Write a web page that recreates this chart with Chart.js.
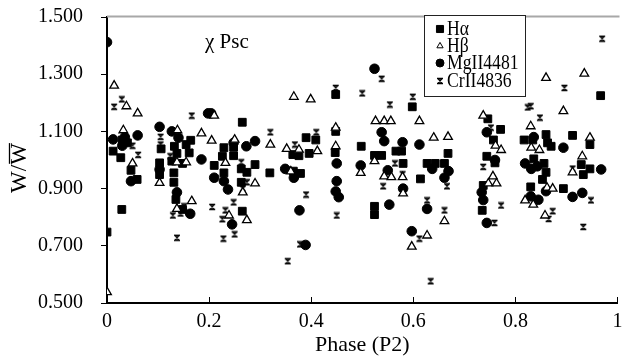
<!DOCTYPE html>
<html>
<head>
<meta charset="utf-8">
<script src="https://cdn.jsdelivr.net/npm/chart.js@4.4.0/dist/chart.umd.min.js"></script>
<style>
html, body { margin: 0; padding: 0; background: #fff; }
</style>
</head>
<body>
<canvas id="wChart" width="624" height="358"></canvas>
<script>
const serif = '"Liberation Serif", "Times New Roman", serif';

const seriesNames = ['Hα', 'Hβ', 'MgII4481', 'CrII4836'];
const xTicks = [0, 0.2, 0.4, 0.6, 0.8, 1];
const yTicks = [0.5, 0.7, 0.9, 1.1, 1.3, 1.5];

// H alpha
const haPhase = [0, 0.04, 0.03, 0.012, 0.027, 0.047, 0.059, 0.029, 0.106, 0.164, 0.155, 0.132, 0.137, 0.161,
    0.148, 0.127, 0.103, 0.103, 0.131, 0.131, 0.135, 0.148, 0.226, 0.21, 0.265, 0.229, 0.248, 0.248, 0.263,
    0.274, 0.29, 0.319, 0.229, 0.263, 0.265, 0.365, 0.379, 0.364, 0.39, 0.409, 0.396, 0.376, 0.448, 0.448,
    0.447, 0.598, 0.498, 0.524, 0.538, 0.566, 0.577, 0.668, 0.58, 0.627, 0.643, 0.661, 0.614, 0.524, 0.524,
    0.967, 0.746, 0.771, 0.757, 0.744, 0.76, 0.737, 0.735, 0.817, 0.834, 0.86, 0.863, 0.87, 0.912, 0.946,
    0.836, 0.856, 0.86, 0.853, 0.929, 0.946, 0.933, 0.83, 0.894];
const haW = [0.748, 1.06, 1.07, 1.031, 1.008, 0.964, 0.932, 0.827, 1.039, 1.069, 1.054, 1.048, 1.023, 1.025,
    0.988, 0.996, 0.99, 0.949, 0.955, 0.922, 0.862, 0.827, 1.013, 0.981, 1.132, 1.043, 1.045, 1.015, 0.969,
    0.957, 0.984, 0.955, 0.955, 0.922, 0.821, 0.961, 0.953, 1.019, 1.078, 1.07, 1.023, 1.015, 1.229, 1.10,
    1.026, 1.186, 1.048, 1.016, 1.016, 1.031, 1.031, 1.023, 0.988, 0.988, 0.988, 0.988, 0.934, 0.838, 0.809,
    1.225, 1.144, 1.107, 1.07, 1.013, 0.99, 0.911, 0.824, 1.07, 1.07, 1.089, 1.06, 1.048, 1.086, 1.054,
    1.004, 0.988, 0.957, 0.932, 0.984, 0.969, 0.949, 0.906, 0.9];

// H beta
const hbPhase = [0.014, 0.038, 0.06, 0.032, 0.05, 0, 0.138, 0.137, 0.155, 0.103, 0.166, 0.137, 0.21, 0.185,
    0.205, 0.32, 0.25, 0.232, 0.29, 0.266, 0.239, 0.274, 0.36, 0.352, 0.376, 0.412, 0.366, 0.399, 0.448,
    0.448, 0.612, 0.526, 0.543, 0.556, 0.64, 0.668, 0.524, 0.497, 0.543, 0.557, 0.579, 0.58, 0.661, 0.627,
    0.597, 0.86, 0.935, 0.894, 0.83, 0.737, 0.761, 0.772, 0.756, 0.747, 0.763, 0.831, 0.847, 0.946, 0.931,
    0.912, 0.819, 0.835, 0.862, 0.873, 0.858];
const hbW = [1.26, 1.188, 1.163, 1.104, 0.988, 0.538, 1.104, 0.992, 0.992, 0.92, 0.856, 0.829, 1.155, 1.093,
    1.068, 1.054, 1.071, 0.99, 0.918, 0.887, 0.806, 0.79, 0.96, 1.039, 1.036, 1.031, 1.221, 1.212, 1.113,
    1.048, 1.136, 1.136, 1.136, 1.136, 1.078, 1.081, 0.996, 0.955, 0.943, 0.94, 0.94, 0.883, 0.786, 0.736,
    0.697, 1.287, 1.302, 1.171, 1.118, 1.155, 1.05, 1.035, 0.943, 0.918, 0.918, 1.043, 1.035, 1.078, 1.013,
    0.957, 0.859, 0.844, 0.903, 0.9, 0.806];

// MgII 4481
const mgPhase = [0, 0.012, 0.035, 0.03, 0.06, 0.047, 0.103, 0.127, 0.14, 0.185, 0.103, 0.137, 0.163, 0.198,
    0.204, 0.21, 0.248, 0.273, 0.29, 0.229, 0.237, 0.245, 0.349, 0.366, 0.377, 0.389, 0.45, 0.45, 0.448,
    0.454, 0.524, 0.538, 0.543, 0.579, 0.612, 0.637, 0.669, 0.497, 0.55, 0.661, 0.58, 0.553, 0.627, 0.597,
    0.744, 0.76, 0.734, 0.737, 0.744, 0.836, 0.894, 0.819, 0.831, 0.843, 0.968, 0.83, 0.845, 0.86, 0.912,
    0.931];
const mgW = [1.412, 1.072, 1.08, 1.05, 1.086, 0.926, 1.116, 1.10, 1.078, 1.002, 0.967, 0.887, 0.812, 1.163,
    1.163, 0.938, 1.06, 1.048, 1.066, 0.926, 0.897, 0.775, 0.969, 0.938, 0.824, 0.703, 0.988, 0.926, 0.89,
    0.87, 1.319, 1.097, 1.066, 1.062, 1.054, 0.969, 0.961, 0.981, 0.964, 0.938, 0.90, 0.844, 0.829, 0.751,
    1.097, 1.0, 0.887, 0.86, 0.78, 1.08, 1.043, 0.988, 0.969, 0.978, 0.967, 0.873, 0.861, 0.891, 0.871,
    0.885];

// CrII 4836
const crPhase = [0.029, 0.014, 0.05, 0.061, 0.105, 0.105, 0.124, 0.151, 0.144, 0.129, 0.137, 0.166, 0.206,
    0.232, 0.226, 0.25, 0.228, 0.448, 0.32, 0.263, 0.274, 0.266, 0.248, 0.368, 0.41, 0.39, 0.378, 0.354,
    0.45, 0.538, 0.5, 0.554, 0.599, 0.564, 0.579, 0.666, 0.541, 0.627, 0.661, 0.612, 0.634, 0.97, 0.896,
    0.824, 0.83, 0.848, 0.752, 0.737, 0.772, 0.759, 0.912, 0.948, 0.865, 0.873, 0.933];
const crW = [1.212, 1.186, 1.05, 1.018, 1.081, 1.054, 1.013, 0.838, 0.813, 0.806, 0.728, 1.155, 0.836,
    0.824, 0.793, 0.74, 0.725, 1.252, 1.097, 0.992, 0.922, 0.90, 0.852, 1.054, 1.097, 0.879, 0.705, 0.646,
    0.806, 1.284, 1.233, 1.194, 1.221, 0.988, 0.95, 0.908, 0.908, 0.859, 0.824, 0.725, 0.576, 1.424, 1.252,
    1.184, 1.188, 1.148, 1.113, 0.976, 0.841, 0.78, 0.97, 0.859, 0.794, 0.821, 0.766];

function toPoints(xs, ys) {
    return xs.map((x, i) => ({ x: x, y: ys[i] }));
}

// hourglass-like asterisk used for the CrII line
function makeCrMarker() {
    const c = document.createElement('canvas');
    c.width = 8;
    c.height = 8;
    const g = c.getContext('2d');
    g.strokeStyle = '#000';
    g.lineWidth = 1.3;
    g.beginPath();
    g.moveTo(1, 1.5); g.lineTo(7, 1.5);
    g.moveTo(1, 6.5); g.lineTo(7, 6.5);
    g.moveTo(2, 1.5); g.lineTo(6, 6.5);
    g.moveTo(6, 1.5); g.lineTo(2, 6.5);
    g.stroke();
    return c;
}
const crMarker = makeCrMarker();

const pointLook = [
    { pointStyle: 'rect', radius: 5.5, backgroundColor: '#000', border: 1 },
    { pointStyle: 'triangle', radius: 5, backgroundColor: '#fff', border: 1.3 },
    { pointStyle: 'circle', radius: 4.8, backgroundColor: '#000', border: 1 },
    { pointStyle: crMarker, radius: 4, backgroundColor: '#000', border: 1 }
];

// extra bits: top frame line, star name, y title, legend box
const extras = {
    id: 'extras',
    beforeDatasetsDraw(chart) {
        const ctx = chart.ctx;
        const a = chart.chartArea;
        ctx.save();
        ctx.strokeStyle = '#a8a8a8';
        ctx.lineWidth = 2;
        ctx.beginPath();
        ctx.moveTo(a.left, 16.5);
        ctx.lineTo(a.right + 2, 16.5);
        ctx.stroke();
        ctx.restore();
    },
    afterDraw(chart) {
        const ctx = chart.ctx;
        ctx.save();
        ctx.fillStyle = '#000';

        // star name
        ctx.font = '21px ' + serif;
        ctx.textAlign = 'left';
        ctx.textBaseline = 'middle';
        ctx.fillText('χ Psc', 205, 42);

        // y axis title W / W-bar
        ctx.save();
        ctx.translate(20, 168);
        ctx.rotate(-Math.PI / 2);
        ctx.font = '23px ' + serif;
        ctx.textAlign = 'center';
        ctx.textBaseline = 'middle';
        ctx.fillText('W/W', 0, 0);
        const full = ctx.measureText('W/W').width;
        const wW = ctx.measureText('W').width;
        ctx.strokeStyle = '#000';
        ctx.lineWidth = 1.3;
        ctx.beginPath();
        ctx.moveTo(full / 2 - wW + 1, -10.5);
        ctx.lineTo(full / 2, -10.5);
        ctx.stroke();
        ctx.restore();

        // legend
        ctx.fillStyle = '#fff';
        ctx.fillRect(424, 15, 102, 82);
        ctx.strokeStyle = '#222';
        ctx.lineWidth = 1;
        ctx.strokeRect(424.5, 15.5, 101, 81);
        const rows = [29, 46, 63, 81];
        const looks = [
            { pointStyle: 'rect', radius: 5, backgroundColor: '#000' },
            { pointStyle: 'triangle', radius: 3.6, backgroundColor: '#fff' },
            { pointStyle: 'circle', radius: 4, backgroundColor: '#000' },
            { pointStyle: crMarker, radius: 4, backgroundColor: '#000' }
        ];
        rows.forEach((y, i) => {
            const lk = looks[i];
            ctx.fillStyle = lk.backgroundColor;
            ctx.strokeStyle = '#000';
            ctx.lineWidth = 1;
            Chart.helpers.drawPoint(ctx, { pointStyle: lk.pointStyle, radius: lk.radius, rotation: 0, borderWidth: 1 }, 440, y);
            ctx.save();
            ctx.translate(447, y);
            ctx.scale(0.84, 1);
            ctx.fillStyle = '#000';
            ctx.font = '21px ' + serif;
            ctx.textAlign = 'left';
            ctx.textBaseline = 'middle';
            ctx.fillText(seriesNames[i], 0, 0);
            ctx.restore();
        });
        ctx.restore();
    }
};

const datasets = [
    toPoints(haPhase, haW),
    toPoints(hbPhase, hbW),
    toPoints(mgPhase, mgW),
    toPoints(crPhase, crW)
].map((pts, i) => ({
    label: seriesNames[i],
    data: pts,
    pointStyle: pointLook[i].pointStyle,
    pointRadius: pointLook[i].radius,
    backgroundColor: pointLook[i].backgroundColor,
    borderColor: '#000',
    borderWidth: pointLook[i].border,
    order: [2, 0, 3, 1][i]
}));

const wCtx = document.getElementById('wChart').getContext('2d');
const wChart = new Chart(wCtx, {
    type: 'scatter',
    data: { datasets: datasets },
    options: {
        responsive: false,
        animation: false,
        events: [],
        layout: { padding: { top: 17, right: 2, left: 0, bottom: 0 } },
        plugins: {
            legend: { display: false },
            tooltip: { enabled: false }
        },
        scales: {
            x: {
                type: 'linear',
                min: 0,
                max: 1,
                afterBuildTicks: s => { s.ticks = xTicks.map(v => ({ value: v })); },
                afterFit: s => { s.height = 55; s.paddingLeft = 0; s.paddingRight = 0; },
                ticks: {
                    color: '#000',
                    font: { family: serif, size: 20 },
                    padding: 13,
                    maxRotation: 0,
                    autoSkip: false,
                    callback: v => String(Number(v.toFixed(1)))
                },
                grid: { drawOnChartArea: false, tickLength: -6, tickColor: '#000', tickWidth: 1 },
                border: { color: '#000', width: 2 },
                title: {
                    display: true,
                    text: 'Phase (P2)',
                    color: '#000',
                    font: { family: serif, size: 22 },
                    padding: 0
                }
            },
            y: {
                type: 'linear',
                min: 0.5,
                max: 1.5,
                afterBuildTicks: s => { s.ticks = yTicks.map(v => ({ value: v })); },
                afterFit: s => { s.width = 107; s.paddingTop = 0; s.paddingBottom = 0; },
                ticks: {
                    color: '#000',
                    font: { family: serif, size: 20 },
                    padding: 18,
                    callback: v => v.toFixed(3)
                },
                grid: { drawOnChartArea: false, tickLength: 6, tickColor: '#000', tickWidth: 1 },
                border: { color: '#000', width: 2 }
            }
        }
    },
    plugins: [extras]
});
</script>
</body>
</html>
